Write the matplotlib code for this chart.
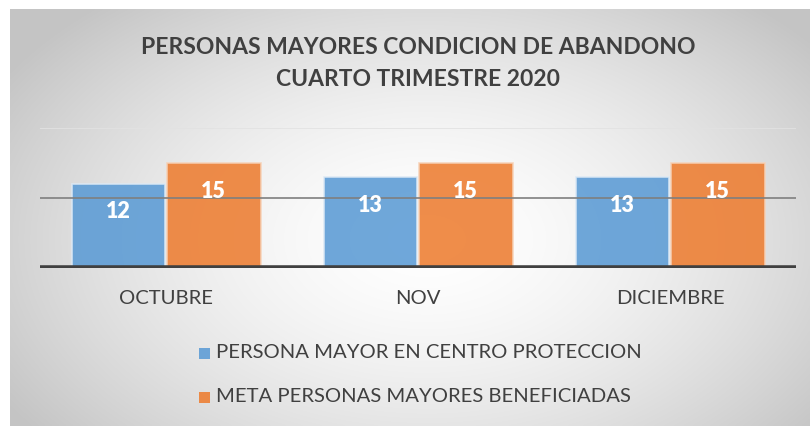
import numpy as np
import matplotlib
matplotlib.use("Agg")
import matplotlib.pyplot as plt

categories = ["OCTUBRE", "NOV", "DICIEMBRE"]
series_names = ["PERSONA MAYOR EN CENTRO PROTECCION", "META PERSONAS MAYORES BENEFICIADAS"]
en_centro = [12, 13, 13]
meta = [15, 15, 15]
title_lines = ["PERSONAS MAYORES CONDICION DE ABANDONO", "CUARTO TRIMESTRE 2020"]

W, H = 810, 426
fig = plt.figure(figsize=(W / 100, H / 100), dpi=100)
fig.patch.set_facecolor("white")

# background panel with radial gradient
bg = fig.add_axes([10 / W, 0, 1 - 10 / W, 1 - 9 / H])
bg.set_axis_off()
ny, nx = 200, 400
yy, xx = np.mgrid[0:ny, 0:nx]
cx, cy = nx * 0.52, ny * 0.55
d = np.sqrt(((xx - cx) / (nx * 0.62)) ** 2 + ((yy - cy) / (ny * 0.75)) ** 2)
d = np.clip(d, 0, 1)
val = 1.0 - 0.23 * d ** 1.6
img = np.dstack([val, val, val])
bg.imshow(img, aspect="auto", extent=[0, 1, 0, 1], interpolation="bilinear")
bg.set_xlim(0, 1)
bg.set_ylim(0, 1)

# main plot axes
left, right = 40 / W, 796 / W
bottom, top = 1 - 268 / H, 1 - 128 / H
ax = fig.add_axes([left, bottom, right - left, top - bottom])
ax.patch.set_alpha(0)

x = np.arange(len(categories))
bw = 0.373
blue = "#5B9BD5"
orange = "#ED7D31"
b1 = ax.bar(x - bw / 2 - 0.002, en_centro, width=bw, color=blue, alpha=0.88,
            edgecolor="#dce9f5", linewidth=1.2, zorder=2)
b2 = ax.bar(x + bw / 2 + 0.002, meta, width=bw, color=orange, alpha=0.88,
            edgecolor="#f6d2b8", linewidth=1.2, zorder=2)

ax.set_xlim(-0.5, len(categories) - 0.5)
ax.set_ylim(0, 20)
ax.axhline(20, color="#e2e2e2", lw=1.2, zorder=1)
ax.axhline(10, color="#7f7f7f", lw=1.2, zorder=3)
ax.axhline(0, color="#404040", lw=4, zorder=4)

for bars, vals in ((b1, en_centro), (b2, meta)):
    for rect, v in zip(bars, vals):
        ax.annotate(str(v), (rect.get_x() + rect.get_width() / 2, v),
                    xytext=(0, -28), textcoords="offset pixels",
                    ha="center", va="center", color="white", fontsize=15.5,
                    fontweight="heavy", family="Lato", zorder=5)

for s in ax.spines.values():
    s.set_visible(False)
ax.set_yticks([])
ax.set_xticks(x)
ax.set_xticklabels(categories, fontsize=14.6, color="#404040", family="Lato")
ax.tick_params(axis="x", length=0, pad=16)

fig.text(418 / W, 1 - 48 / H, title_lines[0], ha="center", va="center",
         fontsize=16.5, fontweight="bold", color="#404040", family="Lato")
fig.text(418 / W, 1 - 79 / H, title_lines[1], ha="center", va="center",
         fontsize=16.5, fontweight="bold", color="#404040", family="Lato")

# legend
for i, (name, col) in enumerate(zip(series_names, [blue, orange])):
    yc = 1 - (353 + 44 * i) / H
    fig.patches.append(plt.Rectangle((199 / W, yc - 5.5 / H), 11 / W, 11 / H,
                                     transform=fig.transFigure, facecolor=col,
                                     alpha=0.88, edgecolor="none"))
    fig.text(216 / W, yc, name, ha="left", va="center", fontsize=14.6,
             color="#404040", family="Lato")

fig.savefig("out.png", dpi=100)
